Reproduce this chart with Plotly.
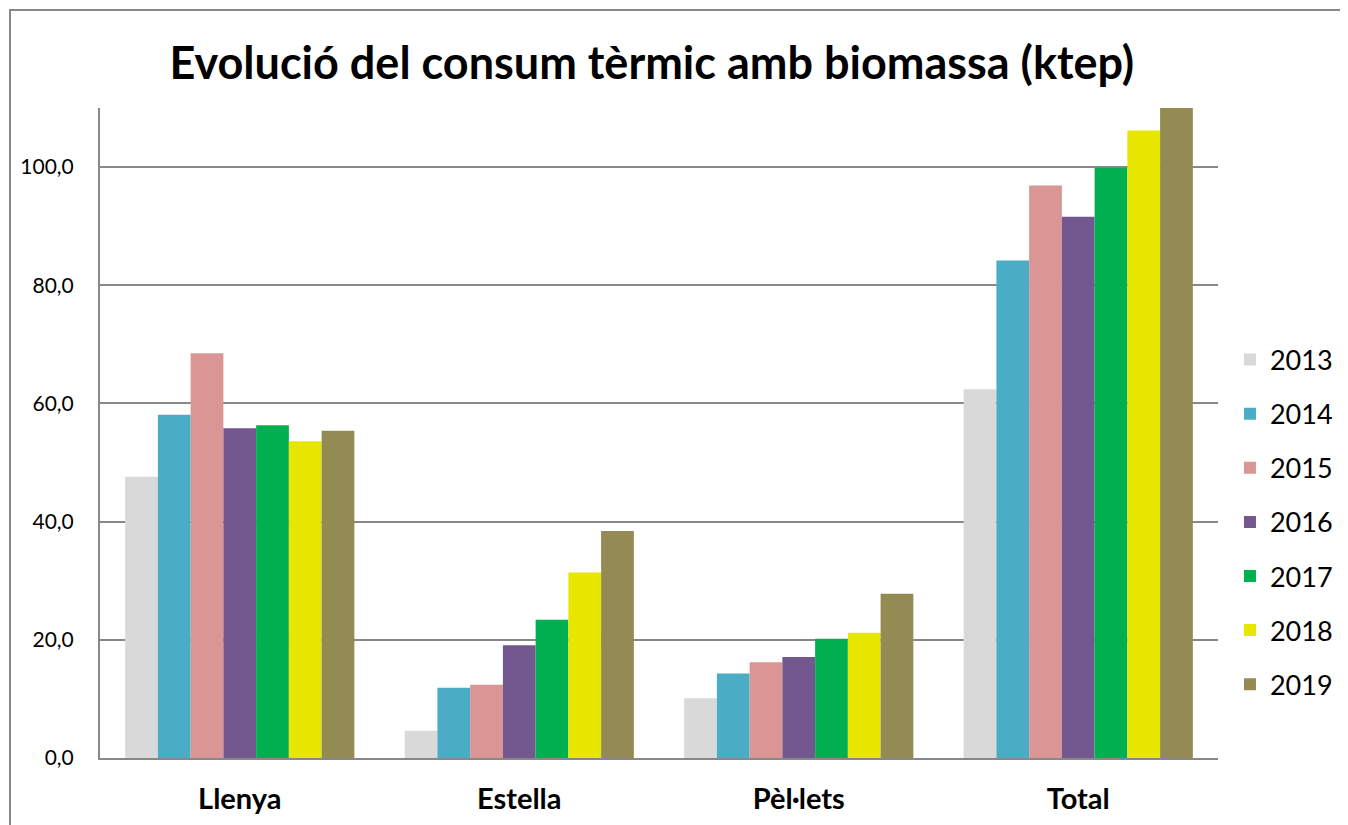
import plotly.graph_objects as go

categories = ["Llenya", "Estella", "Pèl·lets", "Total"]
years = ["2013", "2014", "2015", "2016", "2017", "2018", "2019"]
values = {
    "2013": [47.6, 4.6, 10.1, 62.4],
    "2014": [58.1, 11.9, 14.3, 84.2],
    "2015": [68.5, 12.4, 16.2, 96.9],
    "2016": [55.8, 19.1, 17.1, 91.6],
    "2017": [56.3, 23.4, 20.2, 99.9],
    "2018": [53.6, 31.4, 21.2, 106.2],
    "2019": [55.4, 38.4, 27.8, 121.6],
}
colors = {
    "2013": "#D9D9D9",
    "2014": "#4BACC6",
    "2015": "#D99694",
    "2016": "#72588F",
    "2017": "#00B050",
    "2018": "#E6E600",
    "2019": "#948A54",
}
y_ticks = [0, 20, 40, 60, 80, 100]

FONT = "Lato"
fig = go.Figure()
for yr in years:
    fig.add_trace(go.Bar(
        x=categories, y=values[yr], name=yr,
        marker=dict(color=colors[yr], line=dict(width=0)),
        legendgroup=yr,
    ))

fig.update_layout(
    width=1348, height=825,
    margin=dict(l=92, r=138, t=100, b=75),
    paper_bgcolor="white", plot_bgcolor="white",
    separators=",.",
    barmode="group", bargap=0.18, bargroupgap=0,
    font=dict(family=FONT, color="black"),
    title=dict(text="<b>Evolució del consum tèrmic amb biomassa (ktep)</b>",
               x=0.4776, xanchor="center", y=0.933, yanchor="middle",
               font=dict(size=45, family=FONT, color="black")),
    legend=dict(x=1.0107, xanchor="left", y=0.363, yanchor="middle",
                font=dict(size=27, family=FONT), tracegroupgap=16,
                bgcolor="rgba(0,0,0,0)"),
    showlegend=True,
)
fig.update_xaxes(showline=True, linecolor="#888888", linewidth=2,
                 ticks="", tickfont=dict(size=29, family=FONT),
                 tickprefix="<b>", ticksuffix="</b>", showgrid=False,
                 ticklabelstandoff=14)
fig.update_yaxes(range=[0, 110], tickvals=y_ticks, tickformat=".1f",
                 showline=True, linecolor="#888888", linewidth=2,
                 showgrid=True, gridcolor="#888888", gridwidth=2,
                 ticks="", ticklabelstandoff=20,
                 tickfont=dict(size=21, family=FONT), zeroline=False)
fig.add_shape(type="rect", xref="paper", yref="paper",
              x0=-0.0805, x1=1.3, y0=-0.3, y1=1.1508,
              line=dict(color="#888888", width=2), fillcolor="rgba(0,0,0,0)",
              layer="below")
fig.write_html("out.html")
